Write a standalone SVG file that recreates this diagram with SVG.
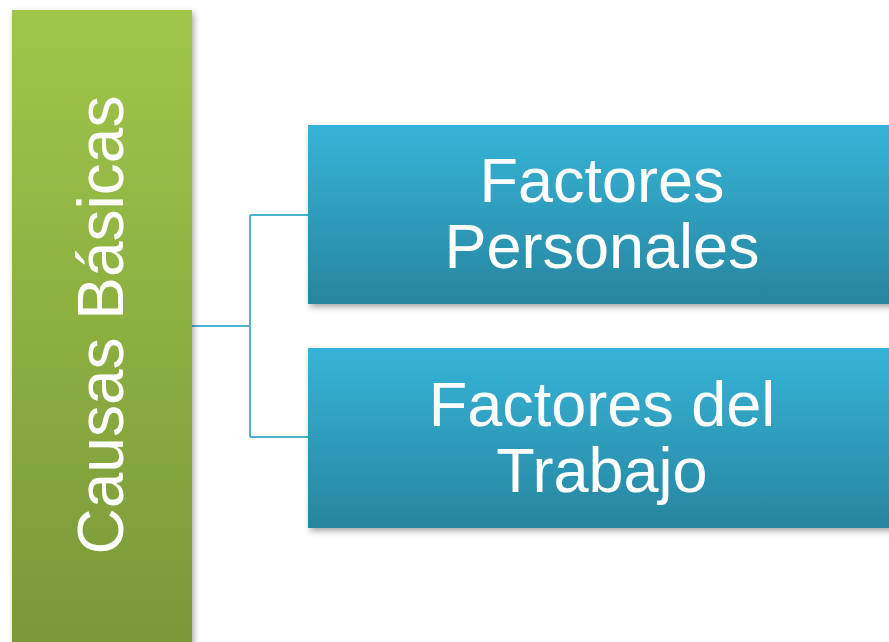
<svg xmlns="http://www.w3.org/2000/svg" width="889" height="642" viewBox="0 0 889 642">
<defs>
<linearGradient id="gGreen" x1="0" y1="0" x2="0" y2="1"><stop offset="0" stop-color="#9fc64a"/><stop offset="1" stop-color="#799838"/></linearGradient>
<linearGradient id="gBlue" x1="0" y1="0" x2="0" y2="1"><stop offset="0" stop-color="#36b4d8"/><stop offset="1" stop-color="#27859f"/></linearGradient>
<filter id="sh" x="-10%" y="-10%" width="130%" height="130%"><feGaussianBlur in="SourceAlpha" stdDeviation="3"/><feOffset dx="2" dy="3"/><feComponentTransfer><feFuncA type="linear" slope="0.35"/></feComponentTransfer><feMerge><feMergeNode/><feMergeNode in="SourceGraphic"/></feMerge></filter>
<style>
.t{font-family:"Liberation Sans",Arial,sans-serif;fill:#fff;font-size:63px;text-anchor:middle}
.c{fill:none;stroke:#4ab3d0;stroke-width:2}
</style>
</defs>
<rect width="889" height="642" fill="#fff"/>
<g id="connectors">
<path class="c" d="M192 326 H250 M250 215 V437 M250 215 H308 M250 437 H308"/>
</g>
<g id="causas">
<rect x="12" y="10" width="180" height="640" fill="url(#gGreen)" filter="url(#sh)"/>
<text class="t" font-size="64" transform="translate(123 325) rotate(-90)" x="0" y="0" style="font-size:64px">Causas Básicas</text>
</g>
<g id="personales">
<rect x="308" y="125" width="590" height="179" fill="url(#gBlue)" filter="url(#sh)"/>
<text class="t" x="602" y="202">Factores</text>
<text class="t" x="602" y="268">Personales</text>
</g>
<g id="trabajo">
<rect x="308" y="348" width="590" height="180" fill="url(#gBlue)" filter="url(#sh)"/>
<text class="t" x="602" y="426">Factores del</text>
<text class="t" x="602" y="492">Trabajo</text>
</g>
</svg>
